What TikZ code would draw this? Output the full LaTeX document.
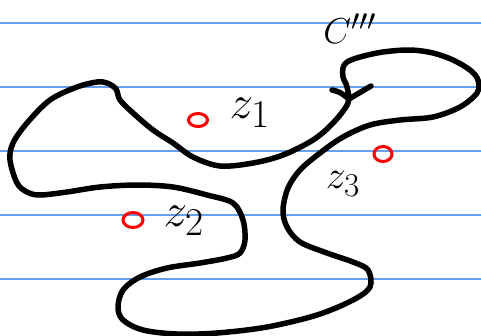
\documentclass[tikz,border=0pt]{standalone}
\begin{document}
\begin{tikzpicture}[x=1pt,y=-1pt,
  rule/.style={draw={rgb,255:red,100;green,160;blue,235},line width=1.4pt},
  contour/.style={draw=black,line width=5.5pt,line cap=round,line join=round},
  pole/.style={draw=red,line width=3pt},
  lbl/.style={inner sep=0pt,text=black}]
\useasboundingbox (0,0) rectangle (481,335);
\clip (0,0) rectangle (481,335);
\fill[white] (0,0) rectangle (481,335);
\foreach \yy in {23,87,151,215,279}{\draw[rule] (0,\yy) -- (481,\yy);}
\draw[contour] plot[smooth cycle,tension=0.55] coordinates {
(348,103) (333,123) (313,140) (283,155) (253,163) (220,166) (193,157) (173,143)
(153,130) (133,113) (120,100) (116,89) (107,83) (97,82) (77,87) (50,100)
(27,123) (13,143) (10,160) (17,183) (27,192) (40,195) (67,192) (100,187)
(137,185) (173,187) (207,195) (233,203) (243,220) (245,240) (240,253) (227,258)
(200,263) (167,268) (140,277) (123,290) (118,307) (123,320) (143,330) (177,334)
(217,333) (267,327) (317,315) (353,300) (370,287) (368,270) (353,262) (327,253)
(300,242) (287,227) (283,210) (288,188) (300,170) (320,153) (343,137) (370,125)
(400,120) (433,117) (460,107) (477,93) (478,80) (470,70) (453,60) (433,53)
(410,50) (383,52) (360,57) (347,62) (343,68) (343,77) (347,87)};
\coordinate (tip) at (349,99);
\coordinate (al) at (332,90);
\coordinate (ar) at (371,86);
\draw[contour] (al) .. controls (340,92) .. (tip) -- (ar);
\draw[pole] (198,120) ellipse [x radius=9.5,y radius=6.5];
\draw[pole] (133,220) ellipse [x radius=10,y radius=7.5];
\draw[pole] (383,154) ellipse [x radius=9,y radius=7.5];
\node[lbl,scale=1.9] (z1) at (250,113) {\Huge $z_1$};
\node[lbl,scale=1.9] (z2) at (184,221) {\Huge $z_2$};
\node[lbl,scale=1.6] (z3) at (343,184) {\Huge $z_3$};
\node[lbl,scale=1.45] (C) at (350,29) {\Huge $C'''$};
\end{tikzpicture}
\end{document}
